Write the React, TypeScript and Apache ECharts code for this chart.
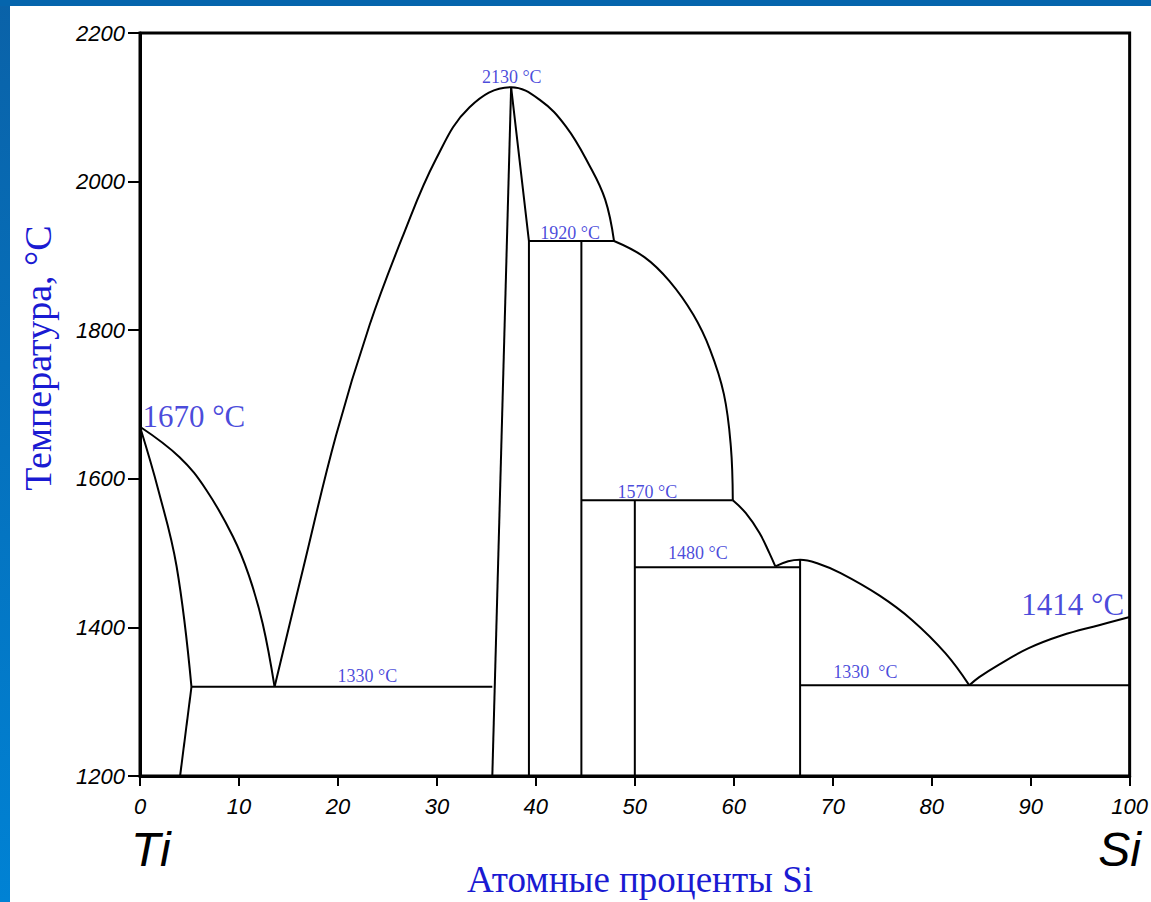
import React, { useEffect, useRef } from 'react';
import * as echarts from 'echarts';

// Axis ticks
const xTickValues = [0, 10, 20, 30, 40, 50, 60, 70, 80, 90, 100];
const yTickValues = [1200, 1400, 1600, 1800, 2000, 2200];

// Curved phase boundaries [at.% Si, °C]
const tiLiquidus = [[0, 1670], [4.0, 1629], [6.7, 1585], [9.4, 1522], [11.0, 1470], [12.4, 1405], [13.6, 1320]];
const betaTiSolvus = [[0, 1670], [1.85, 1585], [3.7, 1482], [5.2, 1320]];
const ti5si3Dome = [
  [13.6, 1320], [16.5, 1480], [19.8, 1658], [23.2, 1807], [26.6, 1928], [29.9, 2030], [33.3, 2100],
  [37.5, 2127], [40.4, 2110], [43.05, 2074], [45.4, 2022], [47.0, 1976], [47.9, 1920],
];
const liquidus1920to1570 = [[47.9, 1920], [51.0, 1898], [53.5, 1866], [55.9, 1821], [57.6, 1774], [59.0, 1714], [59.7, 1644], [59.9, 1571]];
const liquidus1570to1480 = [[59.9, 1571], [61.2, 1554], [62.6, 1527], [63.6, 1500], [64.2, 1482]];
const tiSi2Liquidus = [[64.2, 1482], [65.5, 1489], [66.7, 1491], [68.5, 1486], [70.8, 1473], [74.7, 1443], [78.0, 1410], [81.4, 1365], [83.8, 1322]];
const siLiquidus = [[83.8, 1322], [84.8, 1333], [86.8, 1350], [89.8, 1372], [93.1, 1389], [96.9, 1403], [100, 1414]];

// Straight phase boundaries
const betaTiLower = [[5.2, 1320], [4.05, 1200]];
const eutecticLeft = [[5.2, 1320], [35.6, 1320]];
const ti5si3LeftEdge = [[37.5, 2127], [35.6, 1200]];
const ti5si3RightEdge = [[37.5, 2127], [39.3, 1920], [39.3, 1200]];
const peritectic1920 = [[39.3, 1920], [47.9, 1920]];
const ti5si4Line = [[44.6, 1920], [44.6, 1200]];
const peritectic1570 = [[44.6, 1571], [59.9, 1571]];
const tiSiLine = [[50, 1571], [50, 1200]];
const peritectic1480 = [[50, 1481], [66.7, 1481]];
const tiSi2Line = [[66.7, 1491], [66.7, 1200]];
const eutecticRight = [[66.7, 1322], [100, 1322]];

// Temperature annotations
const smallLabelX = [34.6, 40.5, 48.3, 53.4, 20.0, 70.1];
const smallLabelT = [2133, 1924, 1575, 1493, 1327, 1333];
const smallLabelText = ['2130 °C', '1920 °C', '1570 °C', '1480 °C', '1330 °C', '1330  °C'];
const bigLabelX = [0.3, 89.1];
const bigLabelT = [1672, 1419];
const bigLabelText = ['1670 °C', '1414 °C'];

const curves = [tiLiquidus, betaTiSolvus, ti5si3Dome, liquidus1920to1570, liquidus1570to1480, tiSi2Liquidus, siLiquidus];
const straights = [betaTiLower, eutecticLeft, ti5si3LeftEdge, ti5si3RightEdge, peritectic1920, ti5si4Line, peritectic1570, tiSiLine, peritectic1480, tiSi2Line, eutecticRight];

const BLUE = '#1a1ad2';
const SERIF = '"Liberation Serif", "Times New Roman", serif';
const SANS = '"Liberation Sans", Arial, sans-serif';

export default function App() {
  const ref = useRef<HTMLDivElement>(null);
  useEffect(() => {
    if (!ref.current) return;
    const chart = echarts.init(ref.current, undefined, { renderer: 'svg' });
    const lineStyle = { color: '#000', width: 2 };
    const series: any[] = [];
    curves.forEach((d) => series.push({
      type: 'line', data: d, smooth: 0.4, showSymbol: false, symbol: 'none', lineStyle, silent: true,
    }));
    straights.forEach((d) => series.push({
      type: 'line', data: d, smooth: false, showSymbol: false, symbol: 'none', lineStyle, silent: true,
    }));
    series.push({
      type: 'scatter', symbolSize: 1, itemStyle: { color: 'rgba(0,0,0,0)' }, silent: true,
      data: smallLabelX.map((x, i) => ({ value: [x, smallLabelT[i]], name: smallLabelText[i] })),
      label: {
        show: true, formatter: (p: any) => p.name, position: [0, 0], align: 'left', verticalAlign: 'bottom',
        offset: [0, 4], color: BLUE, fontFamily: SERIF, fontSize: 18,
      },
    });
    series.push({
      type: 'scatter', symbolSize: 1, itemStyle: { color: 'rgba(0,0,0,0)' }, silent: true,
      data: bigLabelX.map((x, i) => ({ value: [x, bigLabelT[i]], name: bigLabelText[i] })),
      label: {
        show: true, formatter: (p: any) => p.name, position: [0, 0], align: 'left', verticalAlign: 'bottom',
        offset: [0, 7], color: BLUE, fontFamily: SERIF, fontSize: 31,
      },
    });

    chart.setOption({
      animation: false,
      backgroundColor: '#ffffff',
      grid: { left: 140, top: 33, right: 20, bottom: 126, show: true, borderColor: '#000', borderWidth: 3 },
      xAxis: {
        type: 'value', min: 0, max: 100, interval: 10,
        axisLine: { show: true, lineStyle: { color: '#000', width: 3 } },
        axisTick: { show: true, length: 10, lineStyle: { color: '#000', width: 2 } },
        axisLabel: {
          margin: 19, color: '#000', fontFamily: SANS, fontStyle: 'italic', fontSize: 22,
          formatter: (v: number) => (xTickValues.includes(v) ? String(v) : ''),
        },
        splitLine: { show: false },
      },
      yAxis: {
        type: 'value', min: 1200, max: 2200, interval: 200,
        axisLine: { show: true, lineStyle: { color: '#000', width: 3 } },
        axisTick: { show: true, length: 12, lineStyle: { color: '#000', width: 2 } },
        axisLabel: {
          margin: 15, color: '#000', fontFamily: SANS, fontStyle: 'italic', fontSize: 22,
          formatter: (v: number) => (yTickValues.includes(v) ? String(v) : ''),
        },
        splitLine: { show: false },
      },
      graphic: [
        {
          type: 'rect', left: 0, top: 0, z: 100,
          shape: { x: 0, y: 0, width: 10, height: 902 },
          style: {
            fill: new echarts.graphic.LinearGradient(0, 0, 0, 1, [
              { offset: 0, color: '#0a62a8' }, { offset: 1, color: '#0082d4' },
            ]),
          },
        },
        { type: 'rect', left: 0, top: 0, z: 100, shape: { x: 0, y: 0, width: 1151, height: 6 }, style: { fill: '#0565ad' } },
        {
          type: 'text', x: 38, y: 358, rotation: Math.PI / 2, z: 50,
          style: { text: 'Температура, °С', font: `38px ${SERIF}`, fill: BLUE, align: 'center', verticalAlign: 'middle' },
        },
        {
          type: 'text', x: 640, y: 879, z: 50,
          style: { text: 'Атомные проценты Si', font: `37px ${SERIF}`, fill: BLUE, align: 'center', verticalAlign: 'middle' },
        },
        {
          type: 'text', x: 131, y: 873, z: 50,
          style: { text: 'Ti', font: `italic 48px ${SANS}`, fill: '#000', align: 'left', verticalAlign: 'bottom' },
        },
        {
          type: 'text', x: 1141, y: 873, z: 50,
          style: { text: 'Si', font: `italic 48px ${SANS}`, fill: '#000', align: 'right', verticalAlign: 'bottom' },
        },
      ],
      series,
    });
    return () => chart.dispose();
  }, []);
  return <div ref={ref} style={{ position: 'absolute', left: 0, top: 0, width: 1151, height: 902 }} />;
}
